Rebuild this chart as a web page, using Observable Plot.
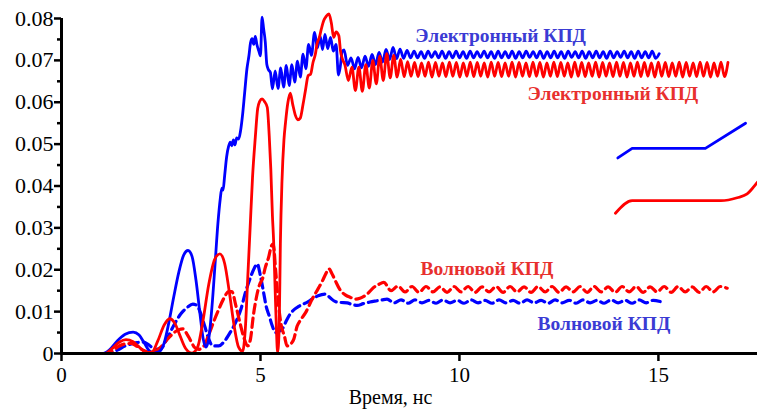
<!DOCTYPE html>
<html>
<head>
<meta charset="utf-8">
<script src="https://cdn.jsdelivr.net/npm/d3@7"></script>
<script src="https://cdn.jsdelivr.net/npm/@observablehq/plot@0.6"></script>
<style>
  html, body { margin: 0; padding: 0; background: #fff; }
  #chart svg { display: block; }
  #chart svg, #chart svg text { font-family: "Liberation Serif", Tinos, "Times New Roman", "DejaVu Serif", serif !important; }
</style>
</head>
<body>
<div id="chart"></div>
<script>
// ---------- data ----------
const xTicks = [0, 5, 10, 15];
const yTicks = [0, 0.01, 0.02, 0.03, 0.04, 0.05, 0.06, 0.07, 0.08];
const yMinorTicks = [0.005, 0.015, 0.025, 0.035, 0.045, 0.055, 0.065, 0.075];

// Electronic efficiency, blue (solid)
const blueElecHead = [[0,0],[1.05,0],[1.2,0.0008],[1.4,0.003],[1.6,0.0046],[1.8,0.0051],[1.95,0.0044],[2.08,0.0025],[2.2,0.0007],[2.32,0.0001],[2.45,0.0004],[2.58,0.0025],[2.7,0.0075],[2.82,0.0135],[2.95,0.0195],[3.07,0.0235],[3.18,0.0246],[3.28,0.0232],[3.38,0.0175],[3.48,0.0095],[3.56,0.0035],[3.63,0.0015],[3.7,0.0035],[3.78,0.011],[3.86,0.0215],[3.93,0.031],[3.99,0.037],[4.03,0.0395],[4.06,0.039],[4.1,0.0425],[4.15,0.047],[4.2,0.0495],[4.24,0.0505],[4.28,0.0496],[4.32,0.051],[4.36,0.0498],[4.4,0.0515],[4.45,0.0512],[4.5,0.0532],[4.55,0.057],[4.6,0.062],[4.66,0.068],[4.71,0.0711],[4.75,0.0742],[4.79,0.0752],[4.83,0.0738],[4.87,0.0757],[4.91,0.0738],[4.96,0.0722],[5.0,0.0711],[5.04,0.0803],[5.08,0.0775],[5.12,0.0745],[5.16,0.069],[5.2,0.0678],[5.25,0.0671],[5.3,0.0632],[5.37,0.0675],[5.44,0.0633],[5.51,0.0682],[5.58,0.0636],[5.65,0.0688],[5.72,0.064],[5.79,0.069],[5.86,0.0648],[5.93,0.0698],[6.0,0.066],[6.07,0.0715],[6.14,0.068],[6.21,0.0738],[6.28,0.0712],[6.36,0.0767],[6.43,0.073],[6.5,0.0758],[6.56,0.0726],[6.62,0.0762],[6.69,0.0728],[6.76,0.0755],[6.83,0.0722],[6.9,0.0738],[6.96,0.0665],[7.01,0.0688],[7.05,0.072]];
const blueElecTailStart = 7.10, blueElecTailStep = 0.088;
const blueElecTail = [0.0725,0.0688,0.0706,0.0680,0.0707,0.0682,0.0710,0.0686,0.0714,0.0690,
0.0719,0.0696,0.0726,0.0702,0.0731,0.0704,0.0727,0.0705,0.0724,0.0706,
0.0722,0.0706,0.0721,0.0705,0.0722,0.0707,0.0721,0.0706,0.0722,0.0705,
0.0721,0.0706,0.0722,0.0706,0.0721,0.0705,0.0722,0.0706,0.0721,0.0707,
0.0722,0.0706,0.0721,0.0705,0.0722,0.0706,0.0721,0.0706,0.0722,0.0705,
0.0721,0.0706,0.0722,0.0707,0.0721,0.0706,0.0722,0.0705,0.0721,0.0706,
0.0722,0.0706,0.0721,0.0705,0.0722,0.0707,0.0721,0.0706,0.0722,0.0705,
0.0721,0.0706,0.0722,0.0706,0.0721,0.0705,0.0722,0.0706,0.0721,0.0707,
0.0722,0.0706,0.0721,0.0705,0.0722,0.0706,0.0721,0.0706,0.0722,0.0705,
0.0716];

// Electronic efficiency, red (solid)
const redElecHead = [[0,0],[1.1,0],[1.25,0.001],[1.45,0.0027],[1.62,0.0033],[1.8,0.0028],[1.98,0.0013],[2.15,0.0002],[2.28,0.0004],[2.42,0.003],[2.58,0.0068],[2.72,0.0083],[2.85,0.0072],[2.98,0.0042],[3.12,0.0012],[3.28,0.0001],[3.42,0.0015],[3.55,0.0075],[3.7,0.0165],[3.85,0.0225],[3.98,0.0238],[4.1,0.0215],[4.22,0.0145],[4.34,0.0065],[4.45,0.0015],[4.55,0.0005],[4.62,0.006],[4.68,0.018],[4.74,0.03],[4.8,0.042],[4.87,0.0516],[4.93,0.0585],[4.98,0.0602],[5.04,0.0608],[5.1,0.0602],[5.17,0.0588],[5.22,0.052],[5.26,0.044],[5.3,0.033],[5.33,0.027],[5.36,0.018],[5.4,0.006],[5.43,0.0003],[5.47,0.006],[5.5,0.0262],[5.54,0.041],[5.59,0.051],[5.63,0.0552],[5.69,0.060],[5.75,0.0622],[5.81,0.0595],[5.88,0.0568],[5.94,0.0558],[6.0,0.0562],[6.07,0.0595],[6.13,0.0628],[6.2,0.0664],[6.26,0.0667],[6.32,0.0695],[6.38,0.0715],[6.42,0.0739],[6.48,0.0755],[6.53,0.0775],[6.59,0.0795],[6.65,0.0805],[6.72,0.0811],[6.78,0.079],[6.84,0.0755],[6.9,0.0768],[6.97,0.0759],[7.01,0.0723],[7.06,0.0703],[7.12,0.0690]];
const redElecTailStart = 7.21, redElecTailStep = 0.0875;
const redElecTail = [0.0652,0.0684,0.0628,0.0684,0.0626,0.0690,0.0634,0.0700,0.0644,0.0710,0.0652,0.0716,0.0658,0.0712,0.0660,0.0703,0.0661,0.0697,
0.0662,0.0695,0.0661,0.0694,0.0662,0.0696,0.0660,0.0695,0.0662,0.0694,
0.0661,0.0696,0.0662,0.0695,0.0660,0.0694,0.0662,0.0696,0.0661,0.0695,
0.0662,0.0694,0.0660,0.0696,0.0662,0.0695,0.0661,0.0694,0.0662,0.0696,
0.0660,0.0695,0.0662,0.0694,0.0661,0.0696,0.0662,0.0695,0.0660,0.0694,
0.0662,0.0696,0.0661,0.0695,0.0662,0.0694,0.0660,0.0696,0.0662,0.0695,
0.0661,0.0694,0.0662,0.0696,0.0660,0.0695,0.0662,0.0694,0.0661,0.0696,
0.0662,0.0695,0.0660,0.0694,0.0662,0.0696,0.0661,0.0695,0.0662,0.0694,
0.0660,0.0696,0.0662,0.0695,0.0661,0.0694,0.0662,0.0696,0.0660,0.0695,
0.0662,0.0694,0.0661,0.0696,0.0662,0.0695,0.0660,0.0694,0.0662,0.0696,
0.0661,0.0695];

// Wave efficiency, blue (dashed)
const blueWaveHead = [[0,0],[1.2,0],[1.4,0.0008],[1.6,0.0018],[1.75,0.0023],[1.9,0.0026],[2.05,0.0027],[2.2,0.002],[2.35,0.001],[2.5,0.0012],[2.65,0.0035],[2.82,0.0067],[3.0,0.0095],[3.16,0.011],[3.3,0.0118],[3.4,0.0115],[3.5,0.0095],[3.6,0.0065],[3.7,0.0035],[3.8,0.0018],[3.95,0.0018],[4.1,0.003],[4.25,0.0052],[4.38,0.0075],[4.5,0.0103],[4.62,0.0145],[4.75,0.0182],[4.85,0.0205],[4.92,0.0214],[5.0,0.0185],[5.08,0.0145],[5.15,0.011],[5.22,0.009],[5.3,0.0065],[5.38,0.005],[5.45,0.0052],[5.55,0.0059],[5.65,0.0078],[5.75,0.0095],[5.92,0.011],[6.05,0.0117],[6.17,0.0122],[6.3,0.013],[6.45,0.0138],[6.63,0.0142],[6.75,0.0133],[6.88,0.0124],[7.0,0.0122],[7.18,0.0121],[7.3,0.0117],[7.43,0.0115],[7.58,0.0119],[7.75,0.0123],[7.93,0.0126],[8.05,0.0128]];
const blueWaveTailStart = 8.18, blueWaveTailStep = 0.176;
const blueWaveTail = [0.0130,0.0121,0.0128,0.0120,0.0128,0.0121,0.0127,0.0120,0.0128,0.0121,
0.0127,0.0120,0.0128,0.0121,0.0127,0.0120,0.0128,0.0121,0.0127,0.0120,
0.0128,0.0121,0.0127,0.0120,0.0128,0.0121,0.0127,0.0120,0.0128,0.0121,
0.0127,0.0120,0.0128,0.0121,0.0127,0.0120,0.0128,0.0121,0.0127,0.0124];

// Wave efficiency, red (dashed)
const redWaveHead = [[0,0],[1.15,0],[1.3,0.0008],[1.45,0.0018],[1.6,0.0023],[1.75,0.0024],[1.9,0.0017],[2.05,0.0008],[2.2,0.0003],[2.35,0.0006],[2.5,0.0016],[2.65,0.0033],[2.82,0.0049],[2.95,0.0057],[3.05,0.0059],[3.15,0.0047],[3.25,0.003],[3.35,0.0014],[3.45,0.001],[3.58,0.0018],[3.7,0.0045],[3.82,0.0075],[3.95,0.0105],[4.08,0.0132],[4.2,0.0148],[4.28,0.0148],[4.38,0.0115],[4.48,0.0075],[4.58,0.0039],[4.68,0.0018],[4.75,0.0035],[4.82,0.009],[4.9,0.0135],[4.98,0.0165],[5.05,0.0178],[5.12,0.0205],[5.2,0.0228],[5.28,0.0258],[5.32,0.0262],[5.38,0.02],[5.45,0.012],[5.52,0.0068],[5.6,0.0042],[5.67,0.0018],[5.75,0.0022],[5.84,0.0035],[5.92,0.0065],[6.0,0.0079],[6.13,0.0097],[6.3,0.013],[6.45,0.0155],[6.55,0.0172],[6.65,0.0192],[6.72,0.0202],[6.8,0.019],[6.88,0.0174],[7.0,0.0152],[7.13,0.014],[7.26,0.0134],[7.4,0.013],[7.5,0.0132],[7.68,0.0142],[7.85,0.0158],[7.97,0.0165],[8.1,0.017]];
const redWaveTailStart = 8.28, redWaveTailStep = 0.176;
const redWaveTail = [0.0150,0.0161,0.0147,0.0160,0.0146,0.0160,0.0147,0.0159,0.0146,0.0160,
0.0147,0.0160,0.0146,0.0159,0.0147,0.0160,0.0146,0.0160,0.0147,0.0159,
0.0146,0.0160,0.0147,0.0160,0.0146,0.0159,0.0147,0.0160,0.0146,0.0160,
0.0147,0.0159,0.0146,0.0160,0.0147,0.0160,0.0146,0.0159,0.0147,0.0160,
0.0146,0.0160,0.0147,0.0159,0.0146,0.0160,0.0147,0.0160,0.0156];

// fragments of a neighbouring diagram at the right edge
const insetBlue = [[13.98,0.0467],[14.34,0.0490],[16.18,0.0490],[17.19,0.0550]];
const insetRed = [[13.92,0.0335],[14.34,0.0365],[16.57,0.0365],[16.98,0.0372],[17.23,0.0381],[17.36,0.0394],[17.49,0.0409]];

// labels
const seriesLabels = [
  {t: 8.89, v: 0.0759, text: "Электронный КПД", color: "#3b3bd4"},
  {t: 11.71, v: 0.0621, text: "Электронный КПД", color: "#e8302e"},
  {t: 9.02, v: 0.0202, text: "Волновой КПД", color: "#e8302e"},
  {t: 11.96, v: 0.0070, text: "Волновой КПД", color: "#3b3bd4"}
];
const xTitle = [{t: 8.27, text: "Время, нс"}];

// ---------- build ----------
function series(head, tail, start, step) {
  return head.map(([t, v]) => ({t, v})).concat(tail.map((v, i) => ({t: start + i * step, v})));
}
const blueElec = series(blueElecHead, blueElecTail, blueElecTailStart, blueElecTailStep);
const redElec = series(redElecHead, redElecTail, redElecTailStart, redElecTailStep);
const blueWave = series(blueWaveHead, blueWaveTail, blueWaveTailStart, blueWaveTailStep);
const redWave = series(redWaveHead, redWaveTail, redWaveTailStart, redWaveTailStep);
const toObj = a => a.map(([t, v]) => ({t, v}));

const font = "Liberation Serif, Tinos, Times New Roman, DejaVu Serif, serif";

const chart = Plot.plot({
  width: 757,
  height: 410,
  marginLeft: 61,
  marginRight: 0,
  marginTop: 18,
  marginBottom: 57,
  x: {domain: [0, 17.49]},
  y: {domain: [0, 0.08]},
  style: {fontFamily: font, background: "#fff", color: "#000"},
  marks: [
    Plot.line(blueWave, {x: "t", y: "v", stroke: "#0000ff", strokeWidth: 3.2, strokeDasharray: "9,5", curve: "monotone-x"}),
    Plot.line(redWave, {x: "t", y: "v", stroke: "#ff0000", strokeWidth: 3.2, strokeDasharray: "9,5", curve: "monotone-x"}),
    Plot.line(blueElec, {x: "t", y: "v", stroke: "#0000ff", strokeWidth: 2.8, curve: "monotone-x"}),
    Plot.line(redElec, {x: "t", y: "v", stroke: "#ff0000", strokeWidth: 2.8, curve: "monotone-x"}),
    Plot.line(toObj(insetBlue), {x: "t", y: "v", stroke: "#0000ff", strokeWidth: 2.8}),
    Plot.line(toObj(insetRed), {x: "t", y: "v", stroke: "#ff0000", strokeWidth: 2.8, curve: "monotone-x"}),
    Plot.ruleY([0], {stroke: "#000", strokeWidth: 3}),
    Plot.ruleX([0], {stroke: "#000", strokeWidth: 3}),
    Plot.axisY({ticks: yTicks, tickSize: 7, tickPadding: 1, strokeWidth: 2.5, fontSize: 22, label: null,
      tickFormat: d => d === 0 ? "0" : d.toFixed(2)}),
    Plot.axisY({ticks: yMinorTicks, tickSize: 4, strokeWidth: 2.5, tickFormat: () => "", label: null}),
    Plot.axisX({ticks: xTicks, tickSize: 8, tickPadding: 6, strokeWidth: 2.5, fontSize: 21, label: null, tickFormat: d => String(d)}),
    Plot.text(seriesLabels, {x: "t", y: "v", text: "text", fill: "color", textAnchor: "start", lineAnchor: "middle",
      fontSize: 19.5, fontWeight: "bold"}),
    Plot.text(xTitle, {x: "t", text: "text", frameAnchor: "bottom", dy: 44, lineAnchor: "middle", fontSize: 20, fill: "#000"})
  ]
});
document.getElementById("chart").appendChild(chart);
</script>
</body>
</html>
